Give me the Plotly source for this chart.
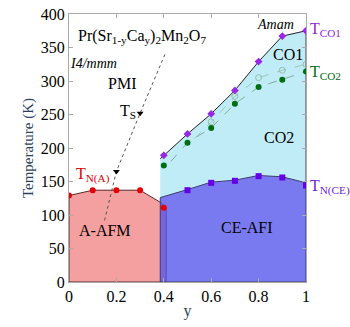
import plotly.graph_objects as go

# ---- data ----
y_tna = [0.0, 0.1, 0.2, 0.3, 0.4]
t_tna = [129, 137, 137, 137, 111]

y_co1 = [0.4, 0.5, 0.6, 0.7, 0.8, 0.9, 1.0]
t_co1 = [189, 221, 251, 286, 329, 367, 375]

y_co2 = [0.4, 0.5, 0.6, 0.7, 0.8, 0.9, 1.0]
t_co2 = [174, 208, 230, 266, 291, 302, 314]

y_co2o = [0.6, 0.7, 0.8, 0.9, 1.0]
t_co2o = [239, 277, 305, 316, 325]

y_nce = [0.5, 0.6, 0.7, 0.8, 0.9, 1.0]
t_nce = [137, 148, 151, 158, 156, 144]

# region boundaries
red_x = [0, 0, 0.1, 0.3, 0.39, 0.41, 0.41, 0]
red_t = [0, 129, 137, 137, 118, 110, 0, 0]

blue_top_x = [0.385, 0.5, 0.6, 0.7, 0.8, 0.9, 1.0]
blue_top_t = [126, 138, 149, 152, 159, 157, 148]

cyan_top_x = [0.385, 0.4, 0.5, 0.6, 0.7, 0.8, 0.9, 1.0]
cyan_top_t = [184, 189, 221, 251, 286, 329, 367, 375]

ts_x = [0.15, 0.2, 0.3, 0.405]
ts_t = [92, 165, 252, 340]
tri_x = [0.2, 0.3]
tri_t = [165, 252]

serif = "Liberation Serif, Times New Roman, serif"

fig = go.Figure()

# red A-AFM region
fig.add_trace(go.Scatter(x=red_x, y=red_t, fill="toself", mode="lines",
                         fillcolor="rgb(244,160,160)",
                         line=dict(color="rgb(90,40,40)", width=1),
                         hoverinfo="skip", showlegend=False))

# cyan region
cx = cyan_top_x + [1.0] + blue_top_x[::-1]
ct = cyan_top_t + [blue_top_t[-1]] + blue_top_t[::-1]
fig.add_trace(go.Scatter(x=cx, y=ct, fill="toself", mode="lines",
                         fillcolor="rgb(192,236,248)",
                         line=dict(color="rgba(0,0,0,0)", width=0),
                         hoverinfo="skip", showlegend=False))
fig.add_trace(go.Scatter(x=cyan_top_x, y=cyan_top_t, mode="lines",
                         line=dict(color="#222", width=1),
                         hoverinfo="skip", showlegend=False))
fig.add_trace(go.Scatter(x=[1.0, 1.0], y=[cyan_top_t[-1], blue_top_t[-1]], mode="lines",
                         line=dict(color="#444", width=1),
                         hoverinfo="skip", showlegend=False))

# blue CE-AFI region
bx = [blue_top_x[0]] + blue_top_x + [1.0, blue_top_x[0]]
bt = [0] + blue_top_t + [0, 0]
fig.add_trace(go.Scatter(x=bx, y=bt, fill="toself", mode="lines",
                         fillcolor="rgba(84,84,236,0.78)",
                         line=dict(color="rgb(60,60,110)", width=1),
                         hoverinfo="skip", showlegend=False))

# dashed lines through CO2 points
fig.add_trace(go.Scatter(x=[0.43] + y_co2[1:], y=[180] + t_co2[1:], mode="lines",
                         line=dict(color="rgb(130,175,150)", width=1, dash="dash"),
                         hoverinfo="skip", showlegend=False))
fig.add_trace(go.Scatter(x=[0.53] + y_co2o, y=[214] + t_co2o, mode="lines",
                         line=dict(color="rgb(160,200,180)", width=1, dash="dash"),
                         hoverinfo="skip", showlegend=False))

# TS dotted line
fig.add_trace(go.Scatter(x=ts_x, y=ts_t, mode="lines",
                         line=dict(color="#555", width=1, dash="dot"),
                         hoverinfo="skip", showlegend=False))
fig.add_trace(go.Scatter(x=tri_x, y=tri_t, mode="markers",
                         marker=dict(symbol="triangle-down", size=6, color="black"),
                         hoverinfo="skip", showlegend=False))

# markers
fig.add_trace(go.Scatter(x=y_tna, y=t_tna, mode="markers",
                         marker=dict(symbol="circle", size=6, color="rgb(230,0,0)"),
                         showlegend=False))
fig.add_trace(go.Scatter(x=y_co2o, y=t_co2o, mode="markers",
                         marker=dict(symbol="circle-open", size=6, color="rgb(150,190,170)"),
                         showlegend=False))
fig.add_trace(go.Scatter(x=y_co2, y=t_co2, mode="markers",
                         marker=dict(symbol="circle", size=6, color="rgb(0,110,20)"),
                         showlegend=False))
fig.add_trace(go.Scatter(x=y_co1, y=t_co1, mode="markers",
                         marker=dict(symbol="diamond", size=6, color="rgb(150,40,230)"),
                         showlegend=False))
fig.add_trace(go.Scatter(x=y_nce, y=t_nce, mode="markers",
                         marker=dict(symbol="square", size=6, color="rgb(100,0,230)"),
                         showlegend=False))

def ann(x, y, text, color="black", size=16, xanchor="center", italic=False, xref="x"):
    if italic:
        text = "<i>" + text + "</i>"
    fig.add_annotation(x=x, y=y, xref=xref, text=text, showarrow=False, xanchor=xanchor,
                       font=dict(family=serif, size=size, color=color))

ann(0.31, 367, "Pr(Sr<sub>1-y</sub>Ca<sub>y</sub>)<sub>2</sub>Mn<sub>2</sub>O<sub>7</sub>", size=16)
ann(0.105, 326, "I4/mmm", size=14, italic=True)
ann(0.225, 296, "PMI", size=16)
ann(0.25, 254, "T<sub>S</sub>", size=16)
ann(0.10, 160, "T<sub>N(A)</sub>", color="rgb(220,0,0)", size=16)
ann(0.15, 77, "A-AFM", size=16)
ann(0.75, 82, "CE-AFI", size=16)
ann(0.885, 216, "CO2", size=16)
ann(0.925, 339, "CO1", size=16)
ann(0.87, 385, "Amam", size=14, italic=True)
ann(1.01, 377, "T<sub>CO1</sub>", color="rgb(150,40,210)", size=16, xanchor="left", xref="paper")
ann(1.01, 312, "T<sub>CO2</sub>", color="rgb(0,110,20)", size=16, xanchor="left", xref="paper")
ann(1.01, 142, "T<sub>N(CE)</sub>", color="rgb(110,30,220)", size=16, xanchor="left", xref="paper")

axis_common = dict(showgrid=False, zeroline=False, showline=True, linecolor="#aaa",
                   linewidth=1, mirror="ticks", ticks="inside", ticklen=4,
                   tickcolor="#aaa", automargin=False, ticklabeloverflow="allow",
                   tickfont=dict(family=serif, size=16, color="black"))

fig.update_layout(
    width=350, height=327,
    margin=dict(l=69, r=44, t=14, b=45, autoexpand=False),
    plot_bgcolor="white", paper_bgcolor="white",
    xaxis=dict(range=[0, 1], tickvals=[0, 0.2, 0.4, 0.6, 0.8, 1],
               ticktext=["0", "0.2", "0.4", "0.6", "0.8", "1"],
               title=dict(text="y", font=dict(family=serif, size=16), standoff=0),
               **axis_common),
    yaxis=dict(range=[0, 400], tickvals=[0, 50, 100, 150, 200, 250, 300, 350, 400],
               title=dict(text="Temperature (K)", font=dict(family=serif, size=15), standoff=3),
               **axis_common),
)

# remove the default 8px page margin so the figure fills the window exactly
fig.write_html("out.html", config={"displayModeBar": False},
               post_script="document.body.style.margin='0';")
